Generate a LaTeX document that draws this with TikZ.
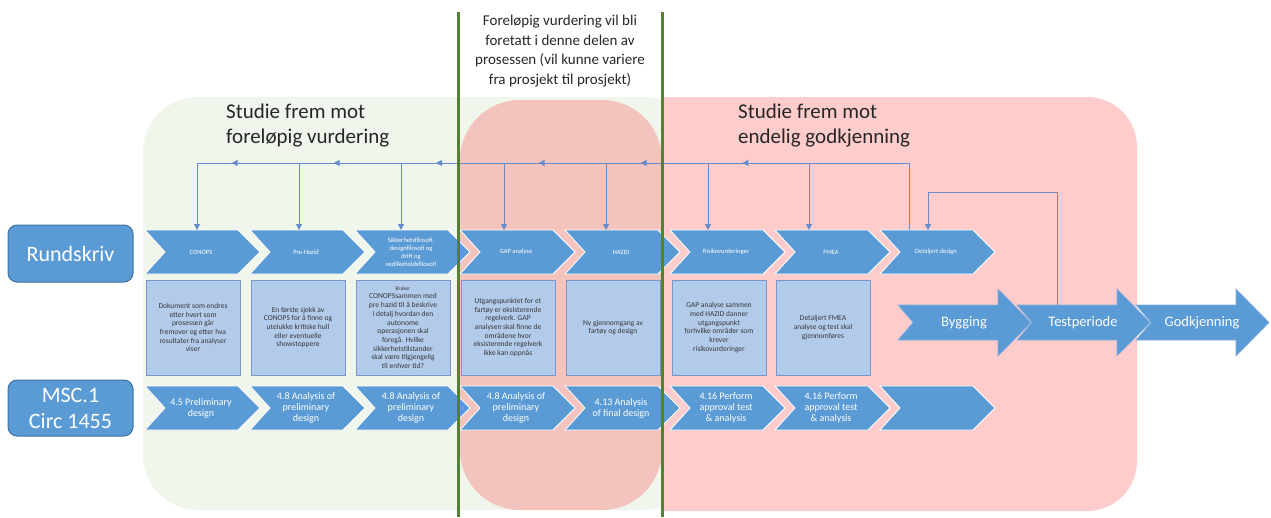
\documentclass[tikz,border=0pt]{standalone}
\usepackage{fontspec}
\setmainfont{Carlito}
\usetikzlibrary{arrows.meta,decorations.markings}
\definecolor{chevblue}{RGB}{91,155,213}
\definecolor{labborder}{RGB}{65,113,156}
\definecolor{boxfill}{RGB}{178,203,235}
\definecolor{boxdraw}{RGB}{120,150,200}
\definecolor{fbline}{RGB}{100,140,205}
\definecolor{greenbg}{RGB}{240,246,236}
\definecolor{pinkbg}{RGB}{255,204,204}
\definecolor{midbg}{RGB}{243,195,189}
\definecolor{gline}{RGB}{84,130,53}
\definecolor{txt}{RGB}{38,38,38}
\definecolor{boxtxt}{RGB}{55,55,55}
\tikzset{
  chevshape/.style={fill=chevblue, draw=white, line width=0.8pt, line join=miter},
  chevtext/.style={text=white, align=center, inner sep=0pt},
  bigarrowshape/.style={fill=chevblue, draw={rgb,255:red,130;green,175;blue,225}, line width=0.6pt},
  bigtext/.style={text=white, font=\fontsize{14.5}{16}\selectfont, inner sep=0pt},
  infobox/.style={fill=boxfill, draw=boxdraw, line width=0.7pt, minimum width=94pt, minimum height=95pt,
    align=center, text=boxtxt, font=\fontsize{7.5}{8.7}\selectfont, inner sep=1pt},
  sidebox/.style={fill=chevblue, draw=labborder, line width=1pt, rounded corners=9pt, minimum width=125pt,
    text=white, align=center, font=\fontsize{22}{26}\selectfont},
  titletext/.style={text=txt, align=left, font=\fontsize{21}{25}\selectfont, inner sep=0pt},
  notetext/.style={text=txt, align=center, font=\fontsize{15}{19.5}\selectfont, inner sep=0pt},
  fb/.style={draw=fbline, line width=1pt},
  tipdown/.style={-{Triangle[length=6pt,width=6pt]}},
  midarrow/.style={postaction={decorate}, decoration={markings,
    mark=at position 0.66 with {\arrow{Triangle[length=6pt,width=6pt]}}}},
}
\newcommand\mychev[6]{%
  \draw[chevshape] (#2,#3) -- ({#2+93},#3) -- ({#2+115},{#3+#4/2}) -- ({#2+93},{#3+#4}) -- (#2,{#3+#4}) -- ({#2+20},{#3+#4/2}) -- cycle;
  \node[chevtext,font=#5] (#1) at ({#2+56},{#3+#4/2}) {#6};
}
\newcommand\mybigarrow[3]{%
  \draw[bigarrowshape] (#2,305) -- ({#2+100},305) -- ({#2+100},289) -- ({#2+133},322.5) -- ({#2+100},356) -- ({#2+100},340) -- (#2,340) -- ({#2+15},322.5) -- cycle;
  \node[bigtext] (#1) at ({#2+66},322.5) {#3};
}
\newcommand\tinyf{\fontsize{6.5}{8}\selectfont}
\newcommand\smallf{\fontsize{10}{11}\selectfont}
\begin{document}
\begin{tikzpicture}[x=1pt,y=-1pt]
\useasboundingbox (0,0) rectangle (1271,517);
% background regions
\fill[greenbg, rounded corners=55pt] (143,97) rectangle (700,510);
\fill[midbg, rounded corners=60pt] (460,100) rectangle (662,510);
\fill[pinkbg] (662,97) [rounded corners=50pt] -- (1137,97) -- (1137,511) [sharp corners] -- (662,511) -- cycle;

% titles
\node[titletext, anchor=west] (t-left) at (226,125.5) {Studie frem mot\\foreløpig vurdering};
\node[titletext, anchor=west] (t-right) at (738,125.5) {Studie frem mot\\endelig godkjenning};
\node[notetext] (note) at (560,51) {Foreløpig vurdering vil bli\\foretatt i denne delen av\\prosessen (vil kunne variere\\fra prosjekt til prosjekt)};

% side labels
\node[sidebox, minimum height=57pt] (rund) at (70.5,253.5) {Rundskriv};
\node[sidebox, minimum height=56pt] (msc) at (70.5,408) {MSC.1\\Circ 1455};

% top chevrons
\mychev{c1}{145}{230}{44}{\tinyf}{CONOPS}
\mychev{c2}{250}{230}{44}{\tinyf}{Pre-Hazid}
\mychev{c3}{355}{230}{44}{\tinyf}{Sikkerhetsfilosofi,\\designfilosofi og\\drift og\\vedlikeholdsfilosofi}
\mychev{c4}{460}{230}{44}{\tinyf}{GAP analyse}
\mychev{c5}{565}{230}{44}{\tinyf}{HAZID}
\mychev{c6}{670}{230}{44}{\tinyf}{Risikovurderinger}
\mychev{c7}{775}{230}{44}{\tinyf}{FMEA}
\mychev{c8}{880}{230}{44}{\tinyf}{Detaljert design}

% bottom chevrons
\mychev{m1}{145}{386}{44}{\smallf}{4.5 Preliminary\\design}
\mychev{m2}{250}{386}{44}{\smallf}{4.8 Analysis of\\preliminary\\design}
\mychev{m3}{355}{386}{44}{\smallf}{4.8 Analysis of\\preliminary\\design}
\mychev{m4}{460}{386}{44}{\smallf}{4.8 Analysis of\\preliminary\\design}
\mychev{m5}{565}{386}{44}{\smallf}{4.13 Analysis\\of final design}
\mychev{m6}{670}{386}{44}{\smallf}{4.16 Perform\\approval test\\\& analysis}
\mychev{m7}{775}{386}{44}{\smallf}{4.16 Perform\\approval test\\\& analysis}
\mychev{m8}{880}{386}{44}{\smallf}{}

% info boxes
\node[infobox] (b1) at (193,327.5) {Dokument som endres\\etter hvert som\\prosessen går\\fremover og etter hva\\resultater fra analyser\\viser};
\node[infobox] (b2) at (298,327.5) {En første sjekk av\\CONOPS for å finne og\\utelukke kritiske hull\\eller eventuelle\\showstoppere};
\node[infobox] (b3) at (403,327.5) {{\fontsize{5.5}{7}\selectfont Bruker}\\CONOPSsammen med\\pre hazid til å beskrive\\i detalj hvordan den\\autonome\\operasjonen skal\\foregå. Hvilke\\sikkerhetstilstander\\skal være tilgjengelig\\til enhver tid?};
\node[infobox] (b4) at (508,327.5) {Utgangspunktet for et\\fartøy er eksisterende\\regelverk. GAP\\analysen skal finne de\\områdene hvor\\eksisterende regelverk\\ikke kan oppnås};
\node[infobox] (b5) at (613,327.5) {Ny gjennomgang av\\fartøy og design};
\node[infobox] (b6) at (719,327.5) {GAP analyse sammen\\med HAZID danner\\utgangspunkt\\forhvilke områder som\\krever\\risikovurderinger};
\node[infobox] (b7) at (823,327.5) {Detaljert FMEA\\analyse og test skal\\gjennomføres};

% big arrows
\mybigarrow{bygg}{898}{Bygging}
\mybigarrow{test}{1017}{Testperiode}
\mybigarrow{godk}{1136}{Godkjenning}

% feedback connectors
\coordinate (bus) at (0,163);
\coordinate (loop) at (0,192);
\coordinate (t1) at (197,230);
\coordinate (t2) at (299,230);
\coordinate (t3) at (401,230);
\coordinate (t4) at (504,230);
\coordinate (t5) at (606,230);
\coordinate (t6) at (708,230);
\coordinate (t7) at (809,230);
\coordinate (t8) at (909,230);
\coordinate (d8) at (928,230);
\coordinate (tp) at (1057,305);
\draw[fb] (t8) -- (t8 |- bus) -- (t7 |- bus);
\foreach \a/\b in {t7/t6,t6/t5,t5/t4,t4/t3,t3/t2,t2/t1}
  \draw[fb, midarrow] (\a |- bus) -- (\b |- bus);
\foreach \t in {t1,t2,t3,t4,t5,t6,t7}
  \draw[fb, tipdown] (\t |- bus) -- (\t);
\draw[fb, tipdown] (tp) -- (tp |- loop) -- (d8 |- loop) -- (d8);

% green separator lines
\draw[gline, line width=3pt] (458,12) -- (458,517);
\draw[gline, line width=3pt] (662,12) -- (662,517);
\end{tikzpicture}
\end{document}
